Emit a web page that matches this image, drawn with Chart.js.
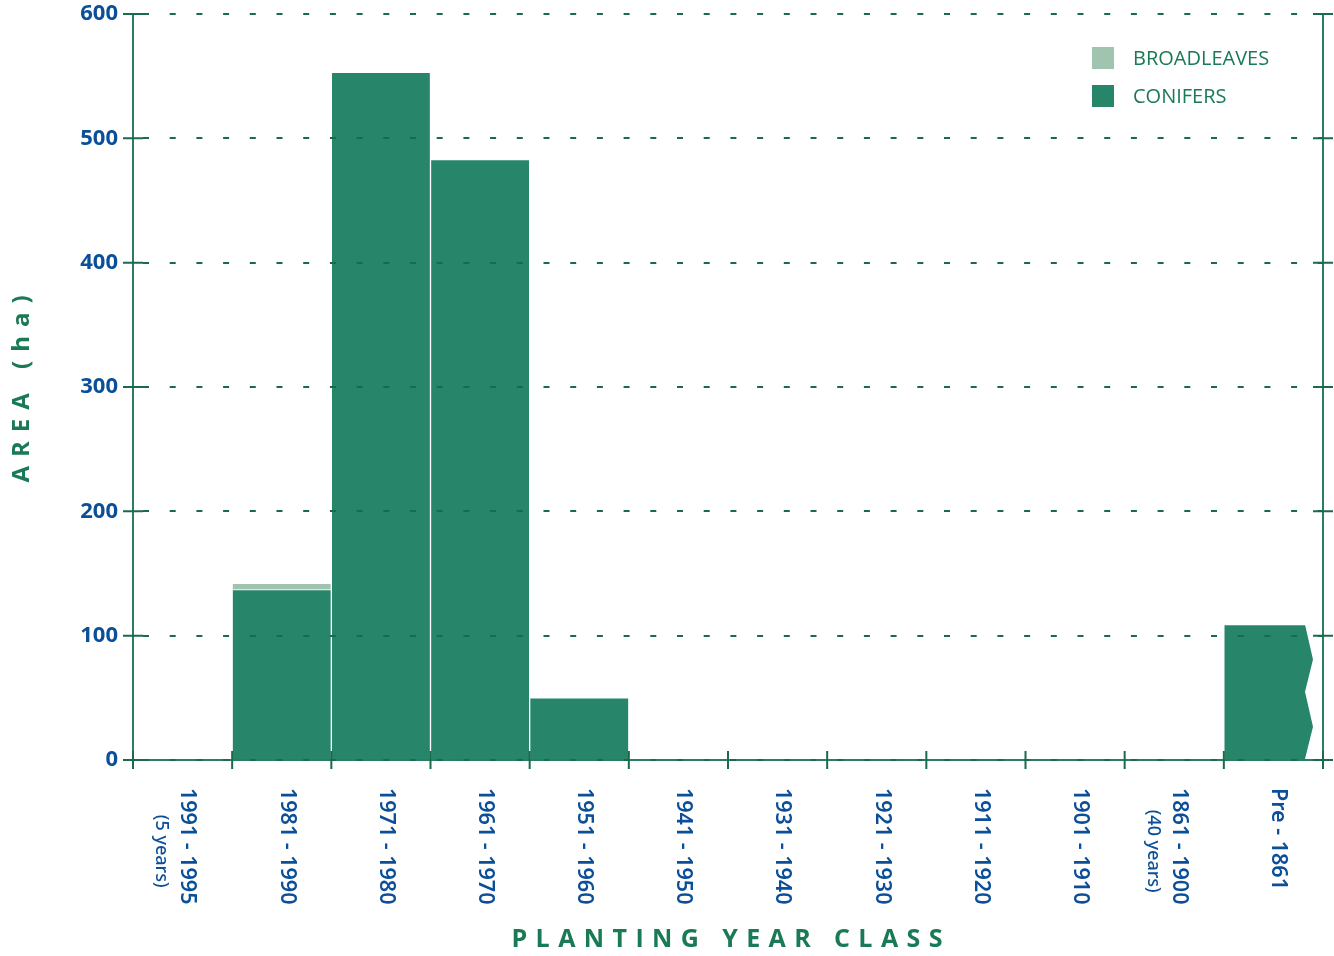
<!DOCTYPE html>
<html>
<head>
<meta charset="utf-8">
<title>Planting year class</title>
<script src="https://cdn.jsdelivr.net/npm/chart.js@4/dist/chart.umd.min.js"></script>
<style>
  html, body { margin: 0; padding: 0; background: #fff; }
  #wrap { width: 1334px; height: 956px; }
</style>
</head>
<body>
<div id="wrap"><canvas id="ageChart"></canvas></div>
<script>
// Area by planting year class (ha)
const categories = [
  ['1991 - 1995', '(5 years)'], '1981 - 1990', '1971 - 1980', '1961 - 1970',
  '1951 - 1960', '1941 - 1950', '1931 - 1940', '1921 - 1930', '1911 - 1920',
  '1901 - 1910', ['1861 - 1900', '(40 years)'], 'Pre - 1861'
];
const conifers = [0, 137, 553, 483, 50, 0, 0, 0, 0, 0, 0, 109];
const broadleaves = [null, 5, null, null, null, null, null, null, null, null, null, null];
const yTicks = [0, 100, 200, 300, 400, 500, 600];

const BLUE = '#0b4f98';
const GREEN_TEXT = '#1a7a55';
const GRID = '#1a6a4c';
const AXIS = '#2a7f62';
const FONT = '"Open Sans", "Noto Sans", sans-serif';
const LABEL_FONT = '"Noto Sans", "Open Sans", sans-serif';

// draw text one glyph at a time with extra tracking
function spacedText(ctx, text, x, y, spacing) {
  const chars = [...text];
  const widths = chars.map(c => ctx.measureText(c).width);
  const total = widths.reduce((a, b) => a + b, 0) + spacing * (chars.length - 1);
  let cx = x - total / 2;
  chars.forEach((c, i) => {
    ctx.fillText(c, cx, y);
    cx += widths[i] + spacing;
  });
}

// solid axis lines, under the bars
const axisLines = {
  id: 'axisLines',
  beforeDatasetsDraw(chart) {
    const { ctx, chartArea: a } = chart;
    ctx.save();
    ctx.strokeStyle = AXIS;
    ctx.lineWidth = 2;
    ctx.beginPath();
    ctx.moveTo(a.left, a.top - 1); ctx.lineTo(a.left, a.bottom + 1);
    ctx.moveTo(a.right, a.top - 1); ctx.lineTo(a.right, a.bottom + 1);
    ctx.moveTo(a.left, a.bottom); ctx.lineTo(a.right, a.bottom);
    ctx.stroke();
    ctx.restore();
  }
};

// right edge of the last class is broken off (open-ended class)
const zigzagCut = {
  id: 'zigzagCut',
  beforeDatasetsDraw(chart) {
    const bar = chart.getDatasetMeta(0).data[categories.length - 1];
    const ctx = chart.ctx;
    const right = bar.x + bar.width / 2;
    const top = bar.y, base = bar.base, h = base - top;
    const inner = right - 18, outer = right - 10;
    ctx.save();
    ctx.beginPath();
    ctx.rect(0, 0, chart.width, chart.height);
    ctx.moveTo(right + 2, top - 2);
    ctx.lineTo(inner, top - 2);
    ctx.lineTo(inner, top);
    ctx.lineTo(outer, top + h * 0.26);
    ctx.lineTo(inner, top + h * 0.5);
    ctx.lineTo(outer, top + h * 0.76);
    ctx.lineTo(inner, base);
    ctx.lineTo(right + 2, base);
    ctx.closePath();
    ctx.clip('evenodd');
    ctx.beginPath();
  },
  afterDatasetsDraw(chart) {
    chart.ctx.restore();
    chart.ctx.beginPath();
  }
};

// tick marks that cross into the plot, labels, titles, legend
const decorations = {
  id: 'decorations',
  afterDraw(chart) {
    const { ctx, chartArea: area } = chart;
    const x = chart.scales.x, y = chart.scales.y;
    ctx.save();

    ctx.strokeStyle = GRID;
    ctx.lineWidth = 2;
    ctx.setLineDash([]);
    ctx.beginPath();
    yTicks.forEach(v => {
      const py = y.getPixelForValue(v);
      ctx.moveTo(area.left - 10, py); ctx.lineTo(area.left + 10, py);
      ctx.moveTo(area.right - 10, py); ctx.lineTo(area.right + 10, py);
    });
    for (let i = 0; i <= categories.length; i++) {
      const px = area.left + (area.right - area.left) * i / categories.length;
      ctx.moveTo(px, area.bottom - 9); ctx.lineTo(px, area.bottom + 9);
    }
    ctx.stroke();

    // category labels, read top to bottom
    ctx.fillStyle = BLUE;
    ctx.textBaseline = 'middle';
    categories.forEach((lab, i) => {
      const lines = Array.isArray(lab) ? lab : [lab];
      const cx = x.getPixelForValue(i);
      ctx.font = '600 21.5px ' + LABEL_FONT;
      const w0 = ctx.measureText(lines[0]).width;
      lines.forEach((t, j) => {
        ctx.save();
        if (j === 0) {
          ctx.font = '600 21.5px ' + LABEL_FONT;
          ctx.textAlign = 'left';
          ctx.translate(cx + 5, area.bottom + 28);
        } else {
          ctx.font = '500 18px ' + LABEL_FONT;
          ctx.textAlign = 'center';
          ctx.translate(cx + 5 - 26 * j, area.bottom + 28 + w0 / 2 + 5);
        }
        ctx.rotate(Math.PI / 2);
        ctx.fillText(t, 0, 0);
        ctx.restore();
      });
    });

    // axis titles
    ctx.fillStyle = GREEN_TEXT;
    ctx.textAlign = 'left';
    ctx.textBaseline = 'middle';
    ctx.font = 'bold 25px ' + FONT;
    spacedText(ctx, 'PLANTING YEAR CLASS', 727, 940, 8.4);

    ctx.save();
    ctx.translate(22, 389);
    ctx.rotate(-Math.PI / 2);
    ctx.font = 'bold 24px ' + FONT;
    spacedText(ctx, 'AREA (ha)', 0, 0, 9);
    ctx.restore();

    // legend, broadleaves listed first
    const items = [chart.data.datasets[1], chart.data.datasets[0]];
    ctx.font = '20px ' + FONT;
    items.forEach((ds, i) => {
      const top = 47 + i * 38;
      ctx.fillStyle = ds.backgroundColor;
      ctx.fillRect(1092, top, 22, 22);
      ctx.fillStyle = GREEN_TEXT;
      ctx.fillText(ds.label, 1133, top + 12);
    });

    ctx.restore();
  }
};

new Chart(document.getElementById('ageChart').getContext('2d'), {
  type: 'bar',
  data: {
    labels: categories,
    datasets: [
      {
        label: 'CONIFERS',
        data: conifers,
        backgroundColor: '#27866a',
        borderColor: 'rgba(255,255,255,0.85)',
        borderWidth: 1,
        borderSkipped: 'bottom'
      },
      {
        label: 'BROADLEAVES',
        data: broadleaves,
        backgroundColor: '#a0c4b0',
        borderColor: '#ffffff',
        borderWidth: 1,
        borderSkipped: 'bottom'
      }
    ]
  },
  options: {
    responsive: true,
    maintainAspectRatio: false,
    animation: false,
    categoryPercentage: 1,
    barPercentage: 1,
    layout: { padding: { top: 14, left: 0, right: 0, bottom: 0 } },
    plugins: {
      legend: { display: false },
      title: { display: false },
      tooltip: { enabled: false }
    },
    scales: {
      x: {
        stacked: true,
        offset: true,
        afterFit: s => { s.height = 196; s.paddingLeft = 0; s.paddingRight = 0; },
        ticks: { display: false },
        grid: { display: false },
        border: { display: false }
      },
      y: {
        stacked: true,
        min: 0,
        max: 600,
        afterFit: s => { s.width = 133; s.paddingTop = 0; s.paddingBottom = 0; },
        afterBuildTicks: s => { s.ticks = yTicks.map(v => ({ value: v })); },
        ticks: {
          color: BLUE,
          font: { family: FONT, size: 22, weight: 'bold' },
          padding: 5
        },
        grid: {
          color: GRID,
          lineWidth: 2,
          tickLength: 10,
          tickColor: 'rgba(0,0,0,0)',
          z: 1
        },
        border: {
          display: false,
          dash: [6, 20.7],
          dashOffset: 16.7
        }
      },
      y2: {
        position: 'right',
        min: 0,
        max: 600,
        afterFit: s => { s.width = 11; s.paddingTop = 0; s.paddingBottom = 0; },
        ticks: { display: false },
        grid: { display: false },
        border: { display: false }
      }
    }
  },
  plugins: [axisLines, zigzagCut, decorations]
});
</script>
</body>
</html>
